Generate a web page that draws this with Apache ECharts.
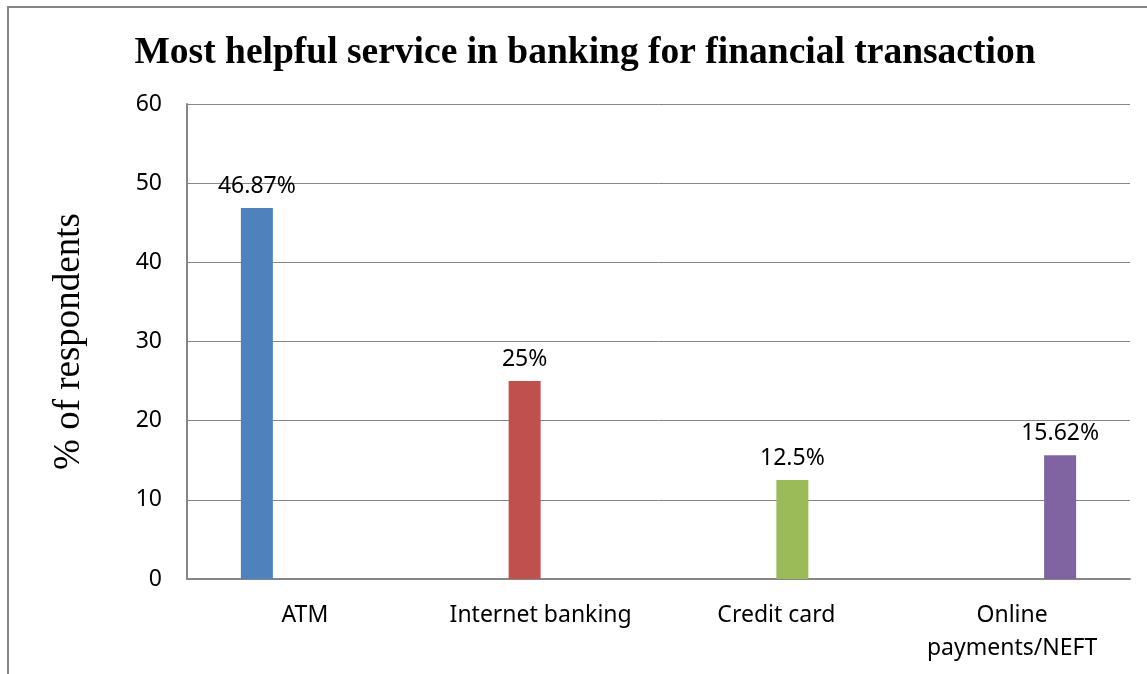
<!DOCTYPE html>
<html>
<head>
<meta charset="utf-8">
<script src="https://cdn.jsdelivr.net/npm/echarts@6/dist/echarts.min.js"></script>
<style>
  html, body { margin: 0; padding: 0; background: #fff; }
  #chart { width: 1147px; height: 674px; }
</style>
</head>
<body>
<div id="chart"></div>
<script>
// Survey results: share of respondents naming each banking service
const categories = ['ATM', 'Internet banking', 'Credit card', 'Online\npayments/NEFT'];
const shares = [46.87, 25, 12.5, 15.62];
const barColors = ['#4F81BD', '#C0504D', '#9BBB59', '#8064A2'];
const yTicks = { min: 0, max: 60, interval: 10 };

// One series per service so each bar sits in its own slot of the cluster
const series = shares.map((v, i) => ({
  type: 'bar',
  name: categories[i],
  barWidth: 32,
  barGap: '0%',
  data: categories.map((_, j) => (j === i ? v : '-')),
  itemStyle: { color: barColors[i] },
  label: {
    show: true,
    position: 'top',
    distance: 10,
    formatter: p => p.value + '%',
    fontFamily: 'Noto Sans',
    fontSize: 23,
    color: '#000'
  }
}));

const chart = echarts.init(document.getElementById('chart'));
chart.setOption({
  backgroundColor: '#fff',
  animation: false,
  graphic: [{
    type: 'rect',
    shape: { x: 8, y: 7, width: 1300, height: 800 },
    style: { fill: 'none', stroke: '#868686', lineWidth: 2 },
    silent: true
  }],
  title: {
    text: 'Most helpful service in banking for financial transaction',
    left: 580,
    top: 29,
    textAlign: 'center',
    textStyle: {
      fontFamily: 'Liberation Serif',
      fontWeight: 'bold',
      fontSize: 37.5,
      color: '#000'
    }
  },
  grid: { left: 187, right: 17, top: 104, bottom: 95, containLabel: false },
  xAxis: {
    type: 'category',
    data: categories,
    axisLine: { lineStyle: { color: '#868686', width: 2 } },
    axisTick: { show: false },
    axisLabel: {
      fontFamily: 'Noto Sans',
      fontSize: 23,
      color: '#000',
      margin: 20,
      lineHeight: 33,
      interval: 0
    }
  },
  yAxis: {
    type: 'value',
    min: yTicks.min,
    max: yTicks.max,
    interval: yTicks.interval,
    name: '% of respondents',
    nameLocation: 'middle',
    nameGap: 99,
    nameTextStyle: {
      fontFamily: 'Liberation Serif',
      fontSize: 37,
      color: '#000'
    },
    axisLine: { show: true, lineStyle: { color: '#868686', width: 2 } },
    axisTick: { show: false },
    splitLine: { lineStyle: { color: '#868686', width: 1 } },
    axisLabel: {
      fontFamily: 'Noto Sans',
      fontSize: 23,
      color: '#000',
      margin: 25
    }
  },
  series: series
});
</script>
</body>
</html>
